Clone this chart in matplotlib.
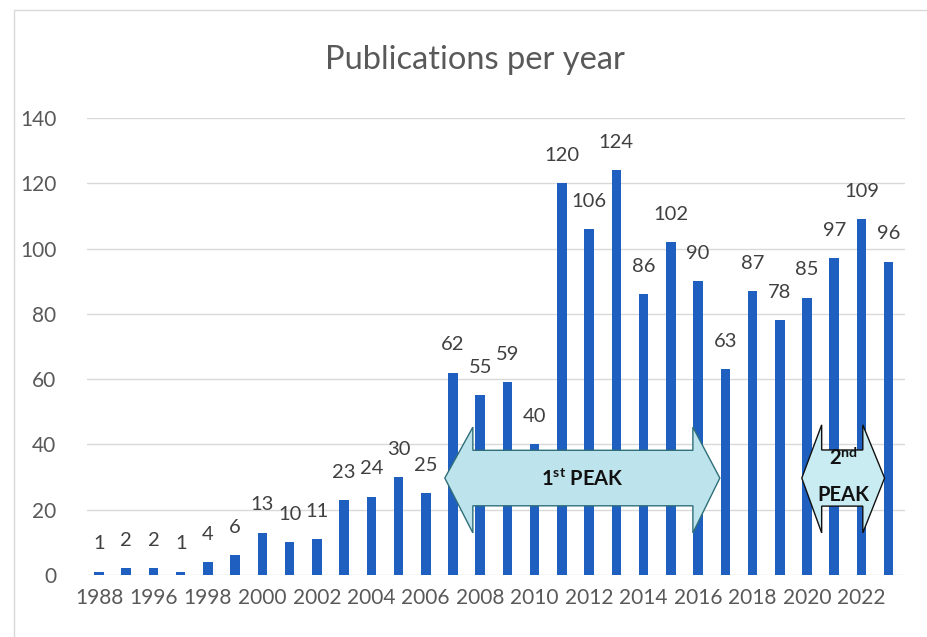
import matplotlib.pyplot as plt
from matplotlib.patches import Polygon, Rectangle

plt.rcParams["font.family"] = ["Lato", "DejaVu Sans"]

years = [1988, 1995, 1996, 1997, 1998, 1999, 2000, 2001, 2002, 2003,
         2004, 2005, 2006, 2007, 2008, 2009, 2010, 2011, 2012, 2013,
         2014, 2015, 2016, 2017, 2018, 2019, 2020, 2021, 2022, 2023]
counts = [1, 2, 2, 1, 4, 6, 13, 10, 11, 23,
          24, 30, 25, 62, 55, 59, 40, 120, 106, 124,
          86, 102, 90, 63, 87, 78, 85, 97, 109, 96]
y_ticks = [0, 20, 40, 60, 80, 100, 120, 140]

# peak arrows: (left tip, left head base, right head base, right tip) in bar index units
peak1_x = (12.70, 13.73, 21.81, 22.80)
peak2_x = (25.81, 26.54, 28.05, 28.85)


def double_arrow(xs, yc, body_half, head_lo, head_hi):
    x0, x1, x2, x3 = xs
    return [(x0, yc), (x1, head_hi), (x1, yc + body_half), (x2, yc + body_half),
            (x2, head_hi), (x3, yc), (x2, head_lo), (x2, yc - body_half),
            (x1, yc - body_half), (x1, head_lo)]


fig = plt.figure(figsize=(9.27, 6.37), dpi=100)
fig.patches.append(Rectangle((14 / 927, -0.1), 1.2, 1 - 10 / 637 + 0.1,
                             transform=fig.transFigure, fill=False,
                             edgecolor="#d9d9d9", linewidth=1))
ax = fig.add_axes([87 / 927, 1 - 575 / 637, 818 / 927, 457 / 637])

x = list(range(len(years)))
ax.bar(x, counts, width=0.35, color="#1f5fbf", zorder=2)

for xi, c in zip(x, counts):
    ax.annotate(str(c), (xi, c), xytext=(0, 20), textcoords="offset points",
                ha="center", va="center", fontsize=14.5, color="#404040")

ax.set_xlim(-0.44, 29.6)
ax.set_ylim(0, 140)
ax.set_yticks(y_ticks)
ax.set_xticks(x[::2])
ax.set_xticklabels([str(y) for y in years[::2]])
ax.tick_params(axis="x", labelsize=15, colors="#595959", length=0, pad=9)
ax.tick_params(axis="y", labelsize=15, colors="#595959", length=0, pad=22)
ax.grid(axis="y", color="#d9d9d9", linewidth=1, zorder=0)
for s in ax.spines.values():
    s.set_visible(False)

ax.add_patch(Polygon(double_arrow(peak1_x, 29.7, 8.5, 12.9, 45.3), closed=True,
                     facecolor="#bde3ec", edgecolor="#2f6f7a", linewidth=1, zorder=3))
ax.add_patch(Polygon(double_arrow(peak2_x, 29.7, 8.6, 12.9, 46.0), closed=True,
                     facecolor="#c9ecf3", edgecolor="#111111", linewidth=1, zorder=3))
ax.text((peak1_x[0] + peak1_x[3]) / 2, 29.5, r"1$^{\mathregular{st}}$ PEAK",
        ha="center", va="center", fontsize=14.5, fontweight="bold", color="#111111", zorder=4)
ax.text((peak2_x[0] + peak2_x[3]) / 2, 36.0, r"2$^{\mathregular{nd}}$",
        ha="center", va="center", fontsize=14.5, fontweight="bold", color="#111111", zorder=4)
ax.text((peak2_x[0] + peak2_x[3]) / 2, 24.5, "PEAK",
        ha="center", va="center", fontsize=14.5, fontweight="bold", color="#111111", zorder=4)

fig.text(0.512, 1 - 60 / 637, "Publications per year", ha="center", va="center",
         fontsize=23.5, color="#595959")

fig.savefig("out.png", dpi=100)
